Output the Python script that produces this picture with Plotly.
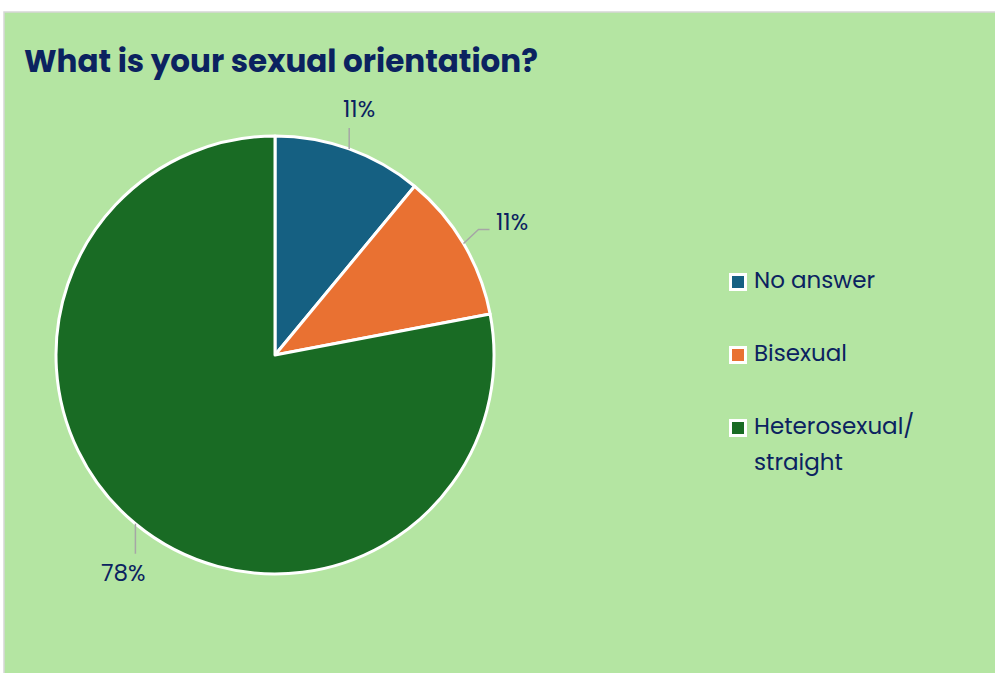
import math
import plotly.graph_objects as go

# Survey answers
categories = ["No answer", "Bisexual", "Heterosexual/\nstraight"]
shares = [11, 11, 78]  # percent
colors = ["#156082", "#E97132", "#196B24"]

W, H = 995, 673
TEXT = "#0b2260"
BG = "#B4E5A2"
FONT = "Poppins, Open Sans, sans-serif"

# pie geometry in pixels
cx, cy, R = 275, 355, 219


def px(x):
    return x / W


def py(y):
    return 1 - y / H


fig = go.Figure(
    go.Pie(
        labels=[c.replace("\n", " ") for c in categories],
        values=shares,
        marker=dict(colors=colors, line=dict(color="white", width=3)),
        sort=False,
        direction="clockwise",
        rotation=0,
        textinfo="none",
        hoverinfo="label+percent",
        showlegend=False,
        domain=dict(x=[px(cx - R), px(cx + R)], y=[py(cy + R), py(cy - R)]),
    )
)

# leader-line styles for each slice label: list of (dx, dy) path steps from the
# slice edge, then the label offset from the line end and its anchor
leaders = [
    dict(path=[(0, -21)], label=(10, -19), xanchor="center"),
    dict(path=[(15, -14), (11, 0)], label=(4, -8), xanchor="left"),
    dict(path=[(0, 30)], label=(-12, 19), xanchor="center"),
]

shapes = [
    # chart area
    dict(type="rect", xref="paper", yref="paper",
         x0=px(4), x1=px(W + 5), y0=py(H + 5), y1=py(12),
         fillcolor=BG, line=dict(color="#d6d6d6", width=1.5), layer="below"),
]
annotations = [
    dict(text="<b>What is your sexual orientation?</b>", xref="paper", yref="paper",
         x=px(22), y=py(61), xanchor="left", yanchor="middle", showarrow=False,
         font=dict(family=FONT, size=31, color=TEXT)),
]

total = sum(shares)
cum = 0
for v, style in zip(shares, leaders):
    mid = (cum + v / 2) / total * 2 * math.pi
    cum += v
    x0 = cx + R * math.sin(mid)
    y0 = cy - R * math.cos(mid)
    path = f"M {px(x0)},{py(y0)}"
    x, y = x0, y0
    for dx, dy in style["path"]:
        x += dx
        y += dy
        path += f" L {px(x)},{py(y)}"
    shapes.append(dict(type="path", xref="paper", yref="paper", path=path,
                       line=dict(color="#a6a6a6", width=1.5)))
    lx, ly = style["label"]
    annotations.append(dict(text=f"{v}%", xref="paper", yref="paper",
                            x=px(x + lx), y=py(y + ly), xanchor=style["xanchor"],
                            yanchor="middle", showarrow=False,
                            font=dict(family=FONT, size=23, color=TEXT)))

# legend: coloured squares and names, one entry per slice
leg_x, leg_y, leg_step, line_step = 738, 282, 73, 36
for i, (name, col) in enumerate(zip(categories, colors)):
    yc = leg_y + i * leg_step
    shapes.append(dict(type="rect", xref="paper", yref="paper",
                       x0=px(leg_x - 7.5), x1=px(leg_x + 7.5),
                       y0=py(yc + 7.5), y1=py(yc - 7.5),
                       fillcolor=col, line=dict(color="white", width=3)))
    for j, part in enumerate(name.split("\n")):
        annotations.append(dict(text=part, xref="paper", yref="paper",
                                x=px(752), y=py(yc - 2 + j * line_step),
                                xanchor="left", yanchor="middle", showarrow=False,
                                font=dict(family=FONT, size=23, color=TEXT)))

fig.update_layout(
    width=W, height=H,
    margin=dict(l=0, r=0, t=0, b=0),
    paper_bgcolor="white",
    plot_bgcolor="white",
    shapes=shapes,
    annotations=annotations,
)

fig.write_html("out.html")
